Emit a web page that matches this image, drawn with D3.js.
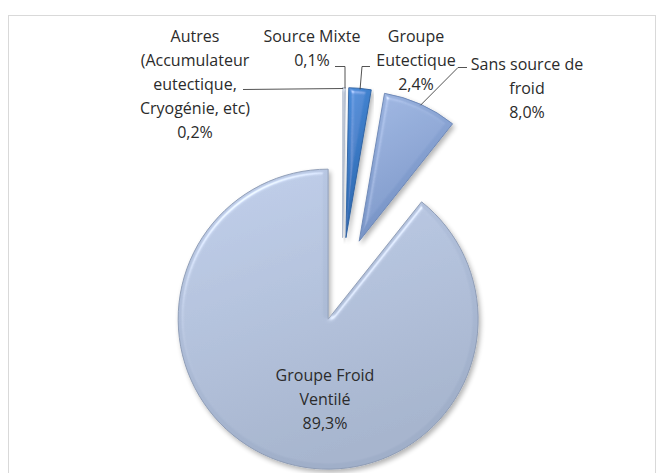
<!DOCTYPE html>
<html>
<head>
<meta charset="utf-8">
<script src="https://cdn.jsdelivr.net/npm/d3@7/dist/d3.min.js"></script>
<style>
  body { margin: 0; background: #fff; }
  svg { display: block; font-family: "Open Sans", sans-serif; }
</style>
</head>
<body>
<svg></svg>
<script>
// data, in the pie order (clockwise from 12 o'clock)
const categories = [
    "Autres (Accumulateur eutectique, Cryogénie, etc)",
    "Source Mixte",
    "Groupe Eutectique",
    "Sans source de froid",
    "Groupe Froid Ventilé"
];
const values = [0.2, 0.1, 2.4, 8.0, 89.3];
// category text as it wraps in the labels
const categoryLines = [
    ["Autres", "(Accumulateur", "eutectique,", "Cryogénie, etc)"],
    ["Source Mixte"],
    ["Groupe", "Eutectique"],
    ["Sans source de", "froid"],
    ["Groupe Froid", "Ventilé"]
];

const width = 662,
    height = 473,
    cx = 342,
    cy = 279.5,
    radius = 150,
    explode = 42,
    lineHeight = 24;

// slice fills: [top, bottom] of the gradient
const fills = [
    ["#d3dae6", "#c2cbda"],
    ["#cdd6e4", "#bcc6d8"],
    ["#4a8edd", "#2a63aa"],
    ["#9cb4e0", "#7390c3"],
    ["#bccbe7", "#a0afc9"]
];
const strokes = ["#b8c2d2", "#b0bbcd", "#2a5f9f", "#6a84b3", "#8a98b2"];

// label placement: first baseline, and elbow points of the leader line
const labelLayout = [
    { x: 195, y: 42, lead: [[243, 89.5]] },
    { x: 312, y: 42, lead: [[335, 66.5], [345, 66.5]] },
    { x: 416, y: 42, lead: [[370, 66.5], [362, 66.5]] },
    { x: 527, y: 70, lead: [[467, 67.5], [458, 67.5]] },
    { x: 325, y: 381, lead: null }
];

const fmt = (v) => d3.format(".1f")(v).replace(".", ",") + "%";

const svg = d3.select("svg").attr("width", width).attr("height", height);

// chart frame
svg.append("rect")
    .attr("x", 8.5)
    .attr("y", 15.5)
    .attr("width", 647)
    .attr("height", 480)
    .attr("fill", "none")
    .attr("stroke", "#d9d9d9");

const defs = svg.append("defs");

fills.forEach((f, i) => {
    const g = defs.append("linearGradient")
        .attr("id", "grad" + i)
        .attr("x1", 0).attr("y1", 0)
        .attr("x2", 0.35).attr("y2", 1);
    g.append("stop").attr("offset", "0%").attr("stop-color", f[0]);
    g.append("stop").attr("offset", "100%").attr("stop-color", f[1]);
});

const filter = defs.append("filter")
    .attr("id", "bevel")
    .attr("x", "-10%").attr("y", "-10%")
    .attr("width", "120%").attr("height", "120%");
filter.append("feGaussianBlur")
    .attr("in", "SourceAlpha").attr("stdDeviation", 2.5).attr("result", "blur");
const spec = filter.append("feSpecularLighting")
    .attr("in", "blur")
    .attr("surfaceScale", 4)
    .attr("specularConstant", 0.4)
    .attr("specularExponent", 30)
    .attr("lighting-color", "#ffffff")
    .attr("result", "spec");
spec.append("feDistantLight").attr("azimuth", 235).attr("elevation", 45);
filter.append("feComposite")
    .attr("in", "spec").attr("in2", "SourceAlpha")
    .attr("operator", "in").attr("result", "specIn");
filter.append("feComposite")
    .attr("in", "SourceGraphic").attr("in2", "specIn")
    .attr("operator", "arithmetic")
    .attr("k1", 0).attr("k2", 1).attr("k3", 1).attr("k4", 0)
    .attr("result", "lit");
filter.append("feGaussianBlur")
    .attr("in", "SourceAlpha").attr("stdDeviation", 2.5).attr("result", "sblur");
filter.append("feOffset")
    .attr("in", "sblur").attr("dx", 1.5).attr("dy", 2.5).attr("result", "soff");
filter.append("feComponentTransfer")
    .attr("in", "soff").attr("result", "shadow")
    .append("feFuncA").attr("type", "linear").attr("slope", 0.3);
const merge = filter.append("feMerge");
merge.append("feMergeNode").attr("in", "shadow");
merge.append("feMergeNode").attr("in", "lit");

const pie = d3.pie().sort(null).value((d) => d)(values);
const arc = d3.arc().innerRadius(0).outerRadius(radius);

const offset = (a, r) => {
    const mid = (a.startAngle + a.endAngle) / 2;
    return [Math.sin(mid) * r, -Math.cos(mid) * r];
};

const chart = svg.append("g").attr("transform", "translate(" + cx + "," + cy + ")");

chart.selectAll("path.slice")
    .data(pie)
    .enter()
    .append("path")
    .attr("class", "slice")
    .attr("d", arc)
    .attr("transform", (d) => "translate(" + offset(d, explode) + ")")
    .attr("fill", (d, i) => "url(#grad" + i + ")")
    .attr("stroke", (d, i) => strokes[i])
    .attr("stroke-width", 0.9)
    .attr("filter", "url(#bevel)");

// leader lines, ending on the outer edge of each exploded slice
pie.forEach((d, i) => {
    const lay = labelLayout[i];
    if (!lay.lead) return;
    const o = offset(d, explode),
        e = offset(d, radius);
    const end = [cx + o[0] + e[0], cy + o[1] + e[1] + 1];
    svg.append("path")
        .attr("d", d3.line()(lay.lead.concat([end])))
        .attr("fill", "none")
        .attr("stroke", "#404040")
        .attr("stroke-width", 0.9);
});

// data labels
pie.forEach((d, i) => {
    const lay = labelLayout[i];
    const lines = categoryLines[i].concat([fmt(values[i])]);
    const t = svg.append("text")
        .attr("x", lay.x)
        .attr("y", lay.y)
        .attr("text-anchor", "middle")
        .attr("font-size", 16)
        .attr("fill", "#2b2b2b");
    lines.forEach((l, k) => {
        t.append("tspan")
            .attr("x", lay.x)
            .attr("dy", k === 0 ? 0 : lineHeight)
            .text(l);
    });
});
</script>
</body>
</html>
